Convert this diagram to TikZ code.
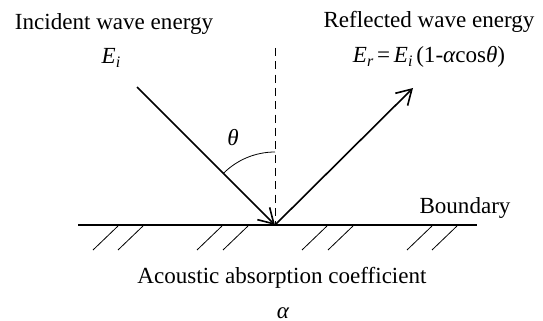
\documentclass[tikz,border=0pt]{standalone}
\usepackage{fontspec}
\setmainfont{Liberation Serif}
\usetikzlibrary{arrows.meta}
\newcommand{\sub}[1]{\raisebox{-0.35ex}{\fontsize{12}{14}\selectfont\itshape #1}}
\begin{document}
\begin{tikzpicture}[x=0.75pt,y=-0.75pt,font=\fontsize{17.3}{20}\selectfont]
\useasboundingbox (0,0) rectangle (543,321);

\coordinate (hit) at (275,225);
\coordinate (inc) at (137,87);
\coordinate (ref) at (413,88);
\coordinate (top) at (275,48);

\draw[line width=1.5pt] (78,225) -- (477,225);
\foreach \x in {93,118,197,223,302,328,407,432} {
    \draw[line width=0.6pt] (\x,250) -- (\x+25,226);
}

\draw[dashed,line width=0.6pt,dash pattern=on 6pt off 4pt] (top) -- (hit);
\draw[line width=1.2pt,-{Straight Barb[length=11pt,width=13pt]}] (inc) -- (hit);
\draw[line width=1.2pt,-{Straight Barb[length=11pt,width=13pt]}] (hit) -- (ref);
\draw[line width=0.6pt] (275,152) arc[start angle=-90,end angle=-135,radius=73];

\node[anchor=base] (theta) at (233,146) {\itshape θ};
\node[anchor=base] (inctxt) at (114,30) {Incident wave energy};
\node[anchor=base] (ei) at (111,64) {\itshape E\sub{i}};
\node[anchor=base] (reftxt) at (429,28) {Reflected wave energy};
\node[anchor=base] (er) at (429,63) {\itshape E\sub{r}\,\upshape=\,\itshape E\sub{i}\upshape\,(1-\itshape α\upshape cos\itshape θ\upshape)};
\node[anchor=base] (bnd) at (465,213) {Boundary};
\node[anchor=base] (abs) at (282,283) {Acoustic absorption coefficient};
\node[anchor=base] (alpha) at (283,318) {\itshape α};
\end{tikzpicture}
\end{document}
